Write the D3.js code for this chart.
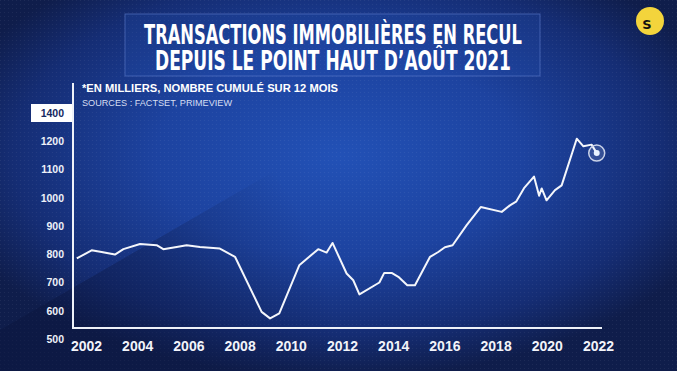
<!DOCTYPE html>
<html>
<head>
<meta charset="utf-8">
<script src="https://cdn.jsdelivr.net/npm/d3@7"></script>
<style>
  html, body { margin: 0; padding: 0; background: #10204f; overflow: hidden; }
  svg { display: block; }
</style>
</head>
<body>
<div id="my_dataviz"></div>
<script>

// DATA (thousands of transactions, rolling 12 months)
var years = [2001.64, 2002.22, 2002.61, 2003.13, 2003.46, 2004.11, 2004.76, 2005.02, 2005.54, 2005.93,
             2006.45, 2007.23, 2007.82, 2008.86, 2009.19, 2009.55, 2010.33, 2011.07, 2011.40, 2011.63,
             2012.18, 2012.44, 2012.68, 2013.46, 2013.65, 2013.94, 2014.20, 2014.55, 2014.85, 2015.44,
             2015.76, 2016.02, 2016.32, 2016.87, 2017.42, 2018.24, 2018.56, 2018.80, 2019.11, 2019.50,
             2019.70, 2019.80, 2019.99, 2020.32, 2020.58, 2021.17, 2021.43, 2021.75, 2021.95]
var transactions = [785, 814, 808, 799, 818, 836, 832, 818, 826, 832,
                    826, 820, 791, 596, 573, 591, 761, 818, 806, 840,
                    732, 708, 658, 700, 734, 734, 720, 690, 690, 791,
                    808, 825, 832, 903, 967, 950, 973, 986, 1034, 1075,
                    1007, 1033, 991, 1027, 1044, 1209, 1182, 1188, 1158]

var yTicks = [500, 600, 700, 800, 900, 1000, 1100, 1200, 1300]
var yTickLabels = ["500", "600", "700", "800", "900", "1000", "1100", "1200", "1400"]
var xTicks = [2002, 2004, 2006, 2008, 2010, 2012, 2014, 2016, 2018, 2020, 2022]

var titleLines = ["TRANSACTIONS IMMOBILIÈRES EN RECUL", "DEPUIS LE POINT HAUT D\u2019AOÛT 2021"]
var note = "*EN MILLIERS, NOMBRE CUMULÉ SUR 12 MOIS"
var sources = "SOURCES : FACTSET, PRIMEVIEW"

var width = 677, height = 371

var svg = d3.select("#my_dataviz")
  .append("svg")
    .attr("width", width)
    .attr("height", height)

var defs = svg.append("defs")

/**************** BACKGROUND ****************/
var bg = defs.append("radialGradient")
    .attr("id", "bg")
    .attr("cx", "50%").attr("cy", "42%").attr("r", "60%")
bg.append("stop").attr("offset", "0%").attr("stop-color", "#2251b6")
bg.append("stop").attr("offset", "45%").attr("stop-color", "#1d43a0")
bg.append("stop").attr("offset", "80%").attr("stop-color", "#152d74")
bg.append("stop").attr("offset", "100%").attr("stop-color", "#0f1d4b")

var dots = defs.append("pattern")
    .attr("id", "dots")
    .attr("width", 4).attr("height", 4)
    .attr("patternUnits", "userSpaceOnUse")
dots.append("rect").attr("x", 0).attr("y", 0).attr("width", 1).attr("height", 1)
    .attr("fill", "#ffffff").attr("opacity", 0.06)

// corner shade, fades away from the bottom left corner
var shade = defs.append("radialGradient")
    .attr("id", "shade")
    .attr("gradientUnits", "userSpaceOnUse")
    .attr("cx", 0).attr("cy", 371).attr("r", 340)
shade.append("stop").attr("offset", "0%").attr("stop-color", "#0a143c").attr("stop-opacity", 0.5)
shade.append("stop").attr("offset", "55%").attr("stop-color", "#0a143c").attr("stop-opacity", 0.3)
shade.append("stop").attr("offset", "100%").attr("stop-color", "#0a143c").attr("stop-opacity", 0)

svg.append("rect").attr("width", width).attr("height", height).attr("fill", "url(#bg)")
svg.append("rect").attr("width", width).attr("height", height).attr("fill", "url(#dots)")

// half plane below the diagonal
svg.append("path")
    .attr("d", "M0,330 L570,0 L677,0 L677,371 L0,371 Z")
    .attr("fill", "url(#shade)")

/**************** TITLE ****************/
svg.append("rect")
    .attr("x", 125).attr("y", 14)
    .attr("width", 415).attr("height", 62)
    .attr("fill", "#2350b0")
    .attr("fill-opacity", 0.25)
    .attr("stroke", "#5d7ccc")
    .attr("stroke-opacity", 0.6)
    .attr("stroke-width", 1)

svg.selectAll(".title")
  .data(titleLines)
  .enter()
  .append("text")
    .attr("class", "title")
    .attr("x", 333)
    .attr("y", function(d, i){ return 44 + i * 26 })
    .attr("text-anchor", "middle")
    .attr("textLength", function(d, i){ return i == 0 ? 378 : 356 })
    .attr("lengthAdjust", "spacingAndGlyphs")
    .attr("font-family", "'Liberation Sans Narrow', 'DejaVu Sans Condensed', sans-serif")
    .attr("font-weight", "bold")
    .attr("font-size", 26)
    .attr("fill", "#ffffff")
    .text(function(d){ return d })

// logo
svg.append("circle")
    .attr("cx", 650).attr("cy", 21).attr("r", 14)
    .attr("fill", "#f3d43c")
svg.append("text")
    .attr("x", 647).attr("y", 29)
    .attr("text-anchor", "middle")
    .attr("font-family", "'DejaVu Sans', sans-serif")
    .attr("font-weight", "bold")
    .attr("font-size", 13)
    .attr("fill", "#111111")
    .text("S")

/**************** NOTES ****************/
svg.append("text")
    .attr("x", 82).attr("y", 92)
    .attr("font-family", "'Liberation Sans', Arial, sans-serif")
    .attr("font-weight", "bold")
    .attr("font-size", 10)
    .attr("textLength", 256)
    .attr("lengthAdjust", "spacingAndGlyphs")
    .attr("fill", "#ffffff")
    .text(note)

svg.append("text")
    .attr("x", 82).attr("y", 106)
    .attr("font-family", "'Liberation Sans', Arial, sans-serif")
    .attr("font-size", 9.5)
    .attr("textLength", 150)
    .attr("lengthAdjust", "spacingAndGlyphs")
    .attr("fill", "#d6def2")
    .text(sources)

/***************** PLOT *****************/
var x = d3.scaleLinear()
  .domain([2002, 2022])
  .range([86, 598])

var y = d3.scaleLinear()
  .domain([500, 1300])
  .range([339, 113])

// box behind top label
svg.append("rect")
    .attr("x", 31).attr("y", y(1300) - 9)
    .attr("width", 42).attr("height", 18)
    .attr("fill", "#ffffff")

var yAxis = svg.append("g")
    .attr("transform", "translate(64,0)")
    .call(d3.axisLeft(y)
      .tickValues(yTicks)
      .tickSize(0)
      .tickFormat(function(d, i){ return yTickLabels[i] }))
yAxis.select(".domain").remove()
yAxis.selectAll("text")
    .attr("x", 0)
    .attr("font-family", "'Liberation Sans', Arial, sans-serif")
    .attr("font-weight", "bold")
    .attr("font-size", 10.5)
    .attr("fill", function(d){ return d == 1300 ? "#14285f" : "#eef1f8" })

var xAxis = svg.append("g")
    .attr("transform", "translate(0,340)")
    .call(d3.axisBottom(x)
      .tickValues(xTicks)
      .tickSize(0)
      .tickFormat(d3.format("d")))
xAxis.select(".domain").remove()
xAxis.selectAll("text")
    .attr("y", 0)
    .attr("dy", "0.75em")
    .attr("font-family", "'Liberation Sans', Arial, sans-serif")
    .attr("font-weight", "bold")
    .attr("font-size", 14)
    .attr("fill", "#f2f4fa")

// axis lines
svg.append("line")
    .attr("x1", 73).attr("x2", 73)
    .attr("y1", 83).attr("y2", 328)
    .attr("stroke", "#eef1f8").attr("stroke-width", 2)
svg.append("line")
    .attr("x1", 72).attr("x2", 602)
    .attr("y1", 328).attr("y2", 328)
    .attr("stroke", "#eef1f8").attr("stroke-width", 2)

// series
var points = years.map(function(d, i){ return [d, transactions[i]] })

svg.append("path")
    .datum(points)
    .attr("fill", "none")
    .attr("stroke", "#f4f6fb")
    .attr("stroke-width", 2)
    .attr("stroke-linejoin", "round")
    .attr("d", d3.line()
        .x(function(d){ return x(d[0]) })
        .y(function(d){ return y(d[1]) })
    )

// last point marker
var last = points[points.length - 1]
svg.append("circle")
    .attr("cx", x(last[0])).attr("cy", y(last[1]))
    .attr("r", 8)
    .attr("fill", "#ffffff").attr("fill-opacity", 0.12)
    .attr("stroke", "#c9d2e8").attr("stroke-width", 1.5)
svg.append("circle")
    .attr("cx", x(last[0])).attr("cy", y(last[1]))
    .attr("r", 3)
    .attr("fill", "#e9f3ff")

</script>
</body>
</html>
